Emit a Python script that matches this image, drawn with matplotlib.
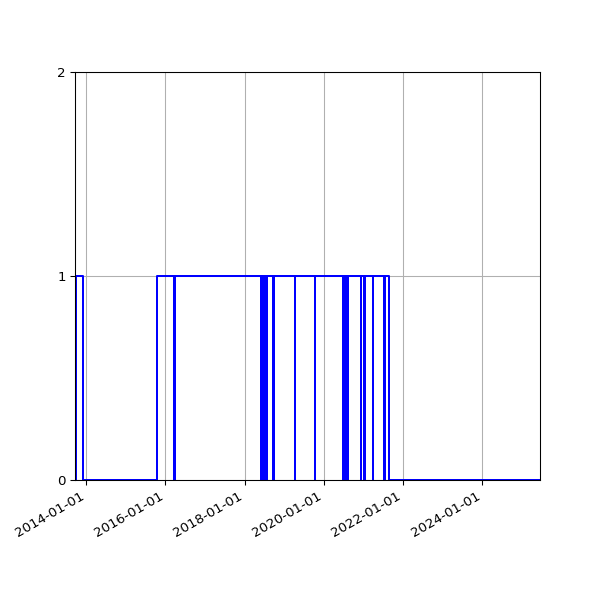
import matplotlib
matplotlib.use("Agg")
import matplotlib.pyplot as plt
import matplotlib.dates as mdates
import pandas as pd

# dates where the indicator changes, and the value from that date on
change_dates = [
    "2013-09-19", "2013-09-30", "2013-12-04", "2015-10-18",
    "2016-03-22", "2016-04-02",
    "2018-05-27", "2018-06-01", "2018-06-06", "2018-06-11", "2018-06-16", "2018-06-21",
    "2018-06-26", "2018-07-01", "2018-07-06", "2018-07-11", "2018-07-16", "2018-07-21",
    "2018-09-22", "2018-09-26",
    "2019-04-06", "2019-04-10",
    "2019-10-11", "2019-10-15",
    "2020-06-24", "2020-06-29", "2020-07-04", "2020-07-09", "2020-07-14", "2020-07-19",
    "2020-07-24", "2020-07-29", "2020-08-03", "2020-08-07",
    "2020-12-05", "2020-12-09",
    "2021-01-06", "2021-01-10",
    "2021-03-29", "2021-04-02",
    "2021-07-12", "2021-07-16",
    "2021-08-25", "2025-06-16",
]
values = [
    0, 1, 0, 1,
    0, 1,
    0, 1, 0, 1, 0, 1,
    0, 1, 0, 1, 0, 1,
    0, 1,
    0, 1,
    0, 1,
    0, 1, 0, 1, 0, 1,
    0, 1, 0, 1,
    0, 1,
    0, 1,
    0, 1,
    0, 1,
    0, 0,
]

dates = pd.to_datetime(change_dates)

fig, ax = plt.subplots(figsize=(6.25, 6.25), dpi=96)
ax.step(dates, values, where="post", color="blue")

ax.set_xlim(dates[0], dates[-1])
ax.set_ylim(0, 2)
ax.set_yticks([0, 1, 2])
ax.xaxis.set_major_locator(mdates.YearLocator(2))
ax.xaxis.set_major_formatter(mdates.DateFormatter("%Y-%m-%d"))
ax.grid(True)
fig.autofmt_xdate()

fig.savefig("out.png")
